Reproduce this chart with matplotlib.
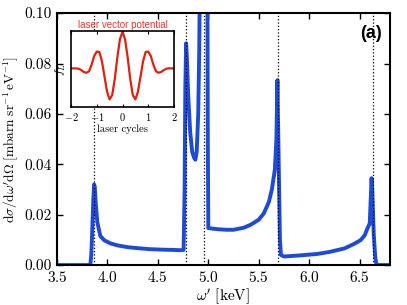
import matplotlib
matplotlib.use('Agg')
import matplotlib.pyplot as plt

plt.rcParams['font.family'] = 'serif'
plt.rcParams['font.serif'] = ['cmr10']
plt.rcParams['mathtext.fontset'] = 'cm'
plt.rcParams['axes.formatter.use_mathtext'] = True

# Main spectrum
energy = [3.50, 3.83, 3.84, 3.85, 3.86, 3.868, 3.875, 3.885, 3.90, 3.93, 3.97,
          4.03, 4.10, 4.20, 4.30, 4.42, 4.55, 4.65, 4.72, 4.755, 4.765, 4.772,
          4.78, 4.788, 4.80, 4.82, 4.84, 4.86, 4.872, 4.885, 4.90, 4.91, 4.92,
          4.96, 4.99, 4.995, 5.00, 5.05, 5.10, 5.18, 5.25, 5.35, 5.42, 5.50,
          5.55, 5.60, 5.63, 5.66, 5.675, 5.685, 5.69, 5.71, 5.72, 5.75, 5.90,
          6.08, 6.20, 6.35, 6.45, 6.51, 6.55, 6.578, 6.60, 6.612, 6.618, 6.625,
          6.64, 6.655, 6.668, 6.80]
cross_section = [0.0, 0.0, 0.004, 0.014, 0.026, 0.032, 0.031, 0.024, 0.017,
                 0.0115, 0.0098, 0.0086, 0.0078, 0.0071, 0.0067, 0.0063, 0.0061,
                 0.0060, 0.0059, 0.0060, 0.030, 0.070, 0.088, 0.082, 0.068,
                 0.053, 0.045, 0.0425, 0.0418, 0.045, 0.060, 0.085, 0.13, 0.15,
                 0.13, 0.05, 0.0147, 0.0144, 0.0142, 0.0140, 0.0140, 0.0148,
                 0.0160, 0.0180, 0.0205, 0.025, 0.030, 0.038, 0.050, 0.0734,
                 0.060, 0.010, 0.004, 0.0034, 0.0038, 0.0044, 0.0052, 0.0066,
                 0.0085, 0.0099, 0.0118, 0.0146, 0.0165, 0.028, 0.0345, 0.030,
                 0.012, 0.003, 0.0, 0.0]
edges = [3.87, 4.782, 4.955, 5.69, 6.634]

# Inset: laser vector potential
cycles = [-2.0, -1.8, -1.7, -1.6, -1.5, -1.4, -1.3, -1.2, -1.1, -1.0, -0.9,
          -0.8, -0.7, -0.6, -0.5, -0.4, -0.3, -0.2, -0.1, 0.0, 0.1, 0.2, 0.3,
          0.4, 0.5, 0.6, 0.7, 0.8, 0.9, 1.0, 1.1, 1.2, 1.3, 1.4, 1.5, 1.6, 1.7,
          1.8, 2.0]
f_L = [0.0, 0.0, -0.01, -0.05, -0.10, -0.12, -0.08, 0.10, 0.34, 0.46, 0.45,
       0.20, -0.22, -0.64, -0.85, -0.73, -0.29, 0.30, 0.80, 1.0, 0.80, 0.30,
       -0.29, -0.73, -0.85, -0.64, -0.22, 0.20, 0.45, 0.46, 0.34, 0.10, -0.08,
       -0.12, -0.10, -0.05, -0.01, 0.0, 0.0]

fig = plt.figure(figsize=(4.07, 3.05), dpi=100)
ax = fig.add_axes([0.140, 0.131, 0.818, 0.826])

for e in edges:
    ax.axvline(e, color='black', linestyle=':', linewidth=0.9, zorder=3)
ax.plot(energy, cross_section, color='#1d4bd8', linewidth=2.8, zorder=2)

ax.set_xlim(3.5, 6.8)
ax.set_ylim(0, 0.10)
ax.set_xticks([3.5, 4.0, 4.5, 5.0, 5.5, 6.0, 6.5])
ax.set_yticks([0.0, 0.02, 0.04, 0.06, 0.08, 0.10])
ax.set_yticklabels(['0.00', '0.02', '0.04', '0.06', '0.08', '0.10'])
ax.tick_params(direction='in', top=True, right=True, labelsize=11,
               width=1.0, length=4)
for s in ax.spines.values():
    s.set_linewidth(1.5)
ax.set_xlabel(r"$\omega^\prime\ [\mathrm{keV}]$", fontsize=11, labelpad=1)
ax.set_ylabel(r"$\mathrm{d}\sigma/\mathrm{d}\omega^\prime\mathrm{d}\Omega\ "
              r"[\mathrm{mbarn\ sr^{-1}\,eV^{-1}}]$", fontsize=9.6, labelpad=3)
ax.text(0.976, 0.92, '(a)', transform=ax.transAxes, ha='right', va='center',
        fontsize=13, fontweight='bold', family='Liberation Sans')

ins = fig.add_axes([0.1745, 0.649, 0.253, 0.250])
ins.plot(cycles, f_L, color='#dd2211', linewidth=1.6)
ins.set_xlim(-2, 2)
ins.set_ylim(-1.06, 1.03)
ins.set_xticks([-2, -1, 0, 1, 2])
ins.set_yticks([])
ins.tick_params(direction='in', top=True, labelsize=7.5, length=2.5, pad=3)
for s in ins.spines.values():
    s.set_linewidth(1.2)
ins.set_xlabel('laser cycles', fontsize=7.5, labelpad=1)
ins.set_ylabel(r'$f_L$', fontsize=8.5, labelpad=2)
ins.set_title('laser vector potential', fontsize=7, color='#e8392c',
              family='Liberation Sans', pad=2)

fig.savefig('out.png', dpi=100)
